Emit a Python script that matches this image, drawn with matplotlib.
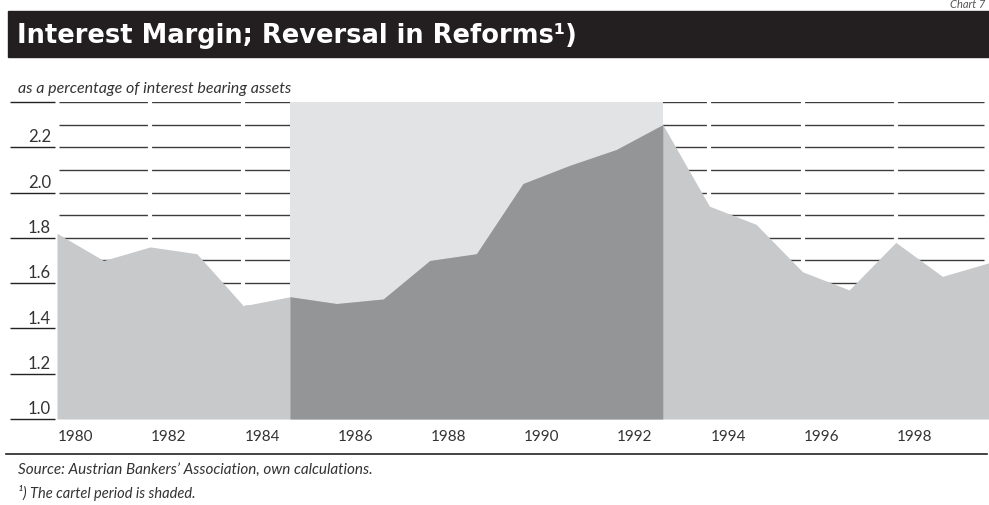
import numpy as np
import matplotlib.pyplot as plt
import matplotlib.transforms as mtransforms

# interest margin, % of interest bearing assets
years = np.arange(1980, 2001)
margin = [1.82, 1.70, 1.76, 1.73, 1.50, 1.54, 1.51, 1.53, 1.70, 1.73,
          2.04, 2.12, 2.19, 2.30, 1.94, 1.86, 1.65, 1.57, 1.78, 1.63, 1.69]
cartel_start, cartel_end = 1985, 1993
ytick_vals = [1.0, 1.2, 1.4, 1.6, 1.8, 2.0, 2.2]
xtick_years = [1980, 1982, 1984, 1986, 1988, 1990, 1992, 1994, 1996, 1998]

W, H = 989, 505
fig = plt.figure(figsize=(W / 100, H / 100), dpi=100)
ax = fig.add_axes([57 / W, (H - 419) / H, (989 - 57) / W, (419 - 102) / H])
ax.set_xlim(1980, 2000)
ax.set_ylim(1.0, 2.4)
ax.set_axis_off()

grid_col = '#3c3c3c'
light = '#c8c9cb'
dark = '#949597'
shade = '#e2e3e5'
txt = '#333333'

# horizontal lines every 0.1, broken by white gaps every second year
ax.hlines(np.arange(1.1, 2.41, 0.1), 1980.05, 1999.9, color=grid_col, lw=1.0, zorder=1)
ax.vlines(np.arange(1982, 2001, 2), 1.0, 2.45, color='white', lw=3.0, zorder=2)

ax.axvspan(cartel_start, cartel_end, color=shade, lw=0, zorder=3)

m = np.array(margin)
ax.fill_between(years, 1.0, m, color=light, lw=0, zorder=4)
inside = (years >= cartel_start) & (years <= cartel_end)
ax.fill_between(years[inside], 1.0, m[inside], color=dark, lw=0, zorder=5)

# y labels sitting above short rules left of the plot
blend = mtransforms.blended_transform_factory(ax.transAxes, ax.transData)
ax.hlines(ytick_vals + [2.4], -0.0504, -0.002, transform=blend, color='#222222',
          lw=1.0, clip_on=False)
for v in ytick_vals:
    ax.annotate(f"{v:.1f}", xy=(-0.0064, v), xycoords=blend, xytext=(0, 3.5),
                textcoords='offset points', ha='right', va='baseline',
                fontsize=12, family='Lato', color=txt)

# x labels
xblend = mtransforms.blended_transform_factory(ax.transData, fig.transFigure)
for yr in xtick_years:
    ax.text(yr + 0.4, 1 - 437 / H, str(yr), transform=xblend, ha='center', va='center',
            fontsize=11, family='Lato', color=txt)

# title bar
fig.patches.append(plt.Rectangle((8 / W, 1 - 57 / H), (989 - 8) / W, 46 / H,
                                 transform=fig.transFigure, color='#231f20', zorder=0))
fig.text(17 / W, 1 - 43 / H, "Interest Margin; Reversal in Reforms\u00b9)", ha='left',
         va='baseline', fontsize=18.5, family='DejaVu Sans', weight='bold', color='white')
fig.text(985 / W, 1 - 8 / H, "Chart 7", ha='right', va='baseline', fontsize=8,
         family='Lato', style='italic', color='#555555')

fig.text(18 / W, 1 - 89 / H, "as a percentage of interest bearing assets", ha='left',
         va='center', fontsize=11.5, family='Lato', style='italic', color=txt)

# bottom rule and notes
fig.add_artist(plt.Line2D([6 / W, 987 / W], [1 - 454 / H, 1 - 454 / H],
                          color='#222222', lw=1.2))
fig.text(18 / W, 1 - 470 / H, "Source: Austrian Bankers\u2019 Association, own calculations.",
         ha='left', va='center', fontsize=11, family='Lato', style='italic', color=txt)
fig.text(18 / W, 1 - 493 / H, "\u00b9) The cartel period is shaded.", ha='left',
         va='center', fontsize=10.5, family='Lato', style='italic', color=txt)

fig.savefig('out.png', dpi=100)
